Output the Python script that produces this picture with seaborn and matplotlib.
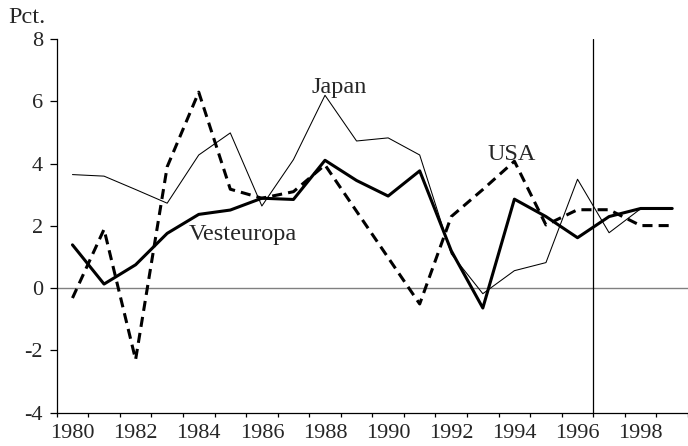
import seaborn as sns
import matplotlib.pyplot as plt
import matplotlib.ticker as mticker
import pandas as pd

# data (pct.)
years = list(range(1980, 2000))
japan = [3.65, 3.6, 3.17, 2.73, 4.28, 4.99, 2.64, 4.13, 6.2, 4.73,
         4.83, 4.28, 1.1, -0.18, 0.56, 0.82, 3.5, 1.78, 2.55, 2.55]
vesteuropa = [1.39, 0.13, 0.75, 1.76, 2.37, 2.51, 2.89, 2.85, 4.11, 3.46,
              2.96, 3.77, 1.2, -0.64, 2.86, 2.3, 1.62, 2.3, 2.56, 2.56]
usa = [-0.32, 1.89, -2.3, 3.9, 6.3, 3.18, 2.89, 3.1, 3.96, 2.47,
       0.98, -0.51, 2.3, 3.17, 4.08, 2.03, 2.52, 2.52, 2.01, 2.01]

df = pd.DataFrame({'year': years, 'Japan': japan,
                   'Vesteuropa': vesteuropa, 'USA': usa})

sns.set_style('white')
plt.rcParams['font.family'] = ['Liberation Serif', 'DejaVu Serif']

fig = plt.figure(figsize=(6.88, 4.46), dpi=100)
ax = fig.add_axes([0.0824, 0.0751, 0.9176, 0.8368])

# zero line and forecast divider
ax.axhline(0, color='#808080', lw=1.0, zorder=1)
ax.axvline(1996.5, color='black', lw=0.9, zorder=1)

sns.lineplot(data=df, x='year', y='Japan', ax=ax, color='black', lw=0.75)
sns.lineplot(data=df, x='year', y='USA', ax=ax, color='black', lw=2.2,
             linestyle=(0, (3.3, 2.0)))
sns.lineplot(data=df, x='year', y='Vesteuropa', ax=ax, color='black', lw=2.2)

ax.set_xlim(1979.5, 1999.5)
ax.set_ylim(-4, 8)
ax.set_xlabel('')
ax.set_ylabel('')

ax.set_yticks(range(-4, 9, 2))
ax.set_yticklabels(['-4', '-2', '0', '2', '4', '6', '8'])
ax.set_xticks(years[::2])
ax.set_xticklabels([str(y) for y in years[::2]])
ax.xaxis.set_minor_locator(mticker.FixedLocator([y - 0.5 for y in years] + [1999.5]))

ax.tick_params(axis='y', which='major', direction='out', length=4.8, width=0.9,
               color='black', labelsize=16, pad=5, left=True)
ax.tick_params(axis='x', which='major', length=0, labelsize=16, pad=8.5)
ax.tick_params(axis='x', which='minor', direction='out', length=3, width=0.9,
               color='black', bottom=True)

for side in ['top', 'right']:
    ax.spines[side].set_visible(False)
for side in ['left', 'bottom']:
    ax.spines[side].set_color('black')
    ax.spines[side].set_linewidth(0.9)

# series labels
ax.text(1987.56, 6.27, 'Japan', fontsize=17.5, ha='left', va='baseline')
ax.text(1993.16, 4.12, 'USA', fontsize=17.5, ha='left', va='baseline')
ax.text(1983.67, 1.55, 'Vesteuropa', fontsize=17.5, ha='left', va='baseline')
fig.text(8 / 688, 1 - 23 / 446, 'Pct.', fontsize=17.5, ha='left', va='baseline')

plt.savefig('out.png', dpi=100)
